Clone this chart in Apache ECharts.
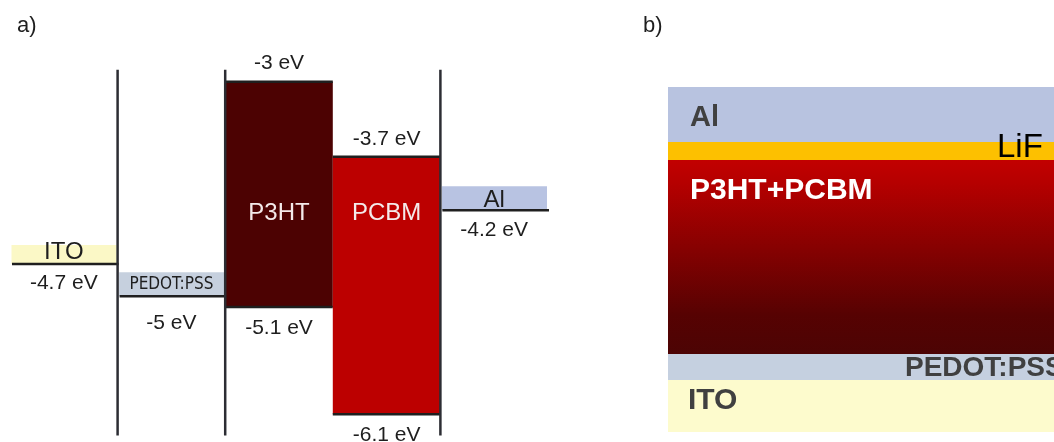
<!DOCTYPE html>
<html><head><meta charset="utf-8">
<script src="https://cdn.jsdelivr.net/npm/echarts@6/dist/echarts.min.js"></script>
<style>html,body{margin:0;padding:0;background:#fff}#c{width:1054px;height:442px}</style>
</head><body><div id="c"></div>
<script>
// ---------- Panel a: energy levels (eV) ----------
const materials = ['ITO', 'PEDOT:PSS', 'P3HT', 'PCBM', 'Al'];
const electrodeIndex = [0, 1, 4];
const workFunction = [-4.7, -5.0, -4.2];
const semiconductorIndex = [2, 3];
const lumoLevel = [-3.0, -3.7];
const homoLevel = [-5.1, -6.1];
const separatorX = [1, 2, 4];
const separatorTop = -2.89;
const energyMin = -6.3, energyMax = -2.5;
const boxLabelLevel = -4.23;

// ---------- Panel b: device stack (relative thickness), bottom to top ----------
const layerNames = ['ITO', 'PEDOT:PSS', 'P3HT+PCBM', 'LiF', 'Al'];
const layerThickness = [52, 26, 194, 18, 55];

// ---------- styles ----------
const FONT = "'Liberation Sans', Arial, sans-serif";
const NARROW = "'Liberation Sans Narrow', 'Arial Narrow', 'DejaVu Sans Condensed', sans-serif";
const LINE = '#1f1f1f';
const electrodeStyle = {
  'ITO':       { fill: '#fbf8c6', band: 19, nameOff: 12, valOff: 19, size: 24, family: FONT },
  'PEDOT:PSS': { fill: '#c6d0de', band: 24, nameOff: 12, valOff: 27, size: 17, family: NARROW },
  'Al':        { fill: '#b8c3e2', band: 24, nameOff: 10, valOff: 20, size: 24, family: FONT }
};
const boxStyle = {
  'P3HT': { fill: '#4c0202' },
  'PCBM': { fill: '#bc0000' }
};
const layerStyle = {
  'ITO':       { color: '#fdfbcd', pos: [20, 21], text: '#404040', weight: 'bold', size: 30 },
  'PEDOT:PSS': { color: '#c5d0e0', pos: [237, 14], text: '#404040', weight: 'bold', size: 28 },
  'P3HT+PCBM': { color: { type: 'linear', x: 0, y: 0, x2: 0, y2: 1, colorStops: [
                    { offset: 0, color: '#c20000' }, { offset: 0.12, color: '#b50000' },
                    { offset: 0.8, color: '#560202' }, { offset: 1, color: '#4c0404' }] },
                 pos: [22, 31], text: '#ffffff', weight: 'bold', size: 30 },
  'LiF':       { color: '#fdc000', pos: [329, 6], text: '#000000', weight: 'normal', size: 33 },
  'Al':        { color: '#b8c3e0', pos: [22, 31], text: '#404040', weight: 'bold', size: 29 }
};

const evText = v => `${v} eV`;

function txt(x, y, text, size, color, family, weight) {
  return { type: 'text', x: x, y: y, z2: 10,
    style: { text: text, fill: color, font: `${weight || 'normal'} ${size}px ${family || FONT}`,
             align: 'center', verticalAlign: 'middle' } };
}

function renderElectrode(params, api) {
  const i = api.value(0), wf = api.value(1);
  const name = materials[i];
  const st = electrodeStyle[name];
  const p0 = api.coord([i, wf]), p1 = api.coord([i + 1, wf]);
  const x0 = p0[0], x1 = p1[0], y = p0[1];
  return { type: 'group', children: [
    { type: 'rect', shape: { x: x0 + 1.5, y: y - st.band, width: x1 - x0 - 2.5, height: st.band }, style: { fill: st.fill } },
    { type: 'line', shape: { x1: x0 + 2, y1: y, x2: x1 + 1, y2: y }, style: { stroke: LINE, lineWidth: 2.5 } },
    txt((x0 + x1) / 2, y - st.nameOff, name, st.size, '#1e1e1e', st.family),
    txt((x0 + x1) / 2, y + st.valOff, evText(wf), 21, '#1e1e1e')
  ] };
}

function renderBox(params, api) {
  const i = api.value(0), top = api.value(1), bot = api.value(2);
  const name = materials[i];
  const pT = api.coord([i, top]), pB = api.coord([i + 1, bot]);
  const x0 = pT[0], x1 = pB[0], yT = pT[1], yB = pB[1];
  const yL = api.coord([i, boxLabelLevel])[1];
  return { type: 'group', children: [
    { type: 'rect', shape: { x: x0, y: yT, width: x1 - x0, height: yB - yT }, style: { fill: boxStyle[name].fill } },
    { type: 'line', shape: { x1: x0, y1: yT, x2: x1, y2: yT }, style: { stroke: LINE, lineWidth: 2.5 } },
    { type: 'line', shape: { x1: x0, y1: yB, x2: x1, y2: yB }, style: { stroke: LINE, lineWidth: 2.5 } },
    txt((x0 + x1) / 2, yL, name, 24, '#f4eaea'),
    txt((x0 + x1) / 2, yT - 18, evText(top), 21, '#1e1e1e'),
    txt((x0 + x1) / 2, yB + 21, evText(bot), 21, '#1e1e1e')
  ] };
}

function renderSeparator(params, api) {
  const x = api.value(0);
  const a = api.coord([x, separatorTop]), b = api.coord([x, energyMin]);
  return { type: 'line', shape: { x1: a[0], y1: a[1], x2: b[0], y2: b[1] },
           style: { stroke: '#2c2d33', lineWidth: 2.5 } };
}

const chart = echarts.init(document.getElementById('c'));
chart.setOption({
  animation: false,
  backgroundColor: '#ffffff',
  graphic: [
    { type: 'text', left: 17, top: 15, style: { text: 'a)', font: `22px ${FONT}`, fill: '#1e1e1e' } },
    { type: 'text', left: 643, top: 15, style: { text: 'b)', font: `22px ${FONT}`, fill: '#1e1e1e' } }
  ],
  grid: [
    { left: 10, top: 28, width: 538, height: 407.6 },
    { left: 668, top: 87, width: 420, height: 345 }
  ],
  xAxis: [
    { type: 'value', gridIndex: 0, min: 0, max: materials.length, show: false },
    { type: 'category', gridIndex: 1, data: ['device'], show: false }
  ],
  yAxis: [
    { type: 'value', gridIndex: 0, min: energyMin, max: energyMax, show: false },
    { type: 'value', gridIndex: 1, min: 0, max: layerThickness.reduce((a, b) => a + b, 0), show: false }
  ],
  series: [
    { type: 'custom', xAxisIndex: 0, yAxisIndex: 0, renderItem: renderBox, z: 2,
      data: semiconductorIndex.map((m, k) => [m, lumoLevel[k], homoLevel[k]]) },
    { type: 'custom', xAxisIndex: 0, yAxisIndex: 0, renderItem: renderElectrode, z: 3,
      data: electrodeIndex.map((m, k) => [m, workFunction[k]]) },
    { type: 'custom', xAxisIndex: 0, yAxisIndex: 0, renderItem: renderSeparator, z: 4,
      data: separatorX.map(x => [x]) }
  ].concat(layerNames.map((n, i) => {
    const st = layerStyle[n];
    return { type: 'bar', name: n, stack: 'device', xAxisIndex: 1, yAxisIndex: 1,
      barWidth: '100%', data: [layerThickness[i]], z: 2 + (n === 'LiF' ? 1 : 0),
      itemStyle: { color: st.color },
      label: { show: true, formatter: n, position: st.pos, align: 'left', verticalAlign: 'middle',
               color: st.text, fontWeight: st.weight, fontSize: st.size, fontFamily: FONT } };
  }))
});
</script>
</body></html>
